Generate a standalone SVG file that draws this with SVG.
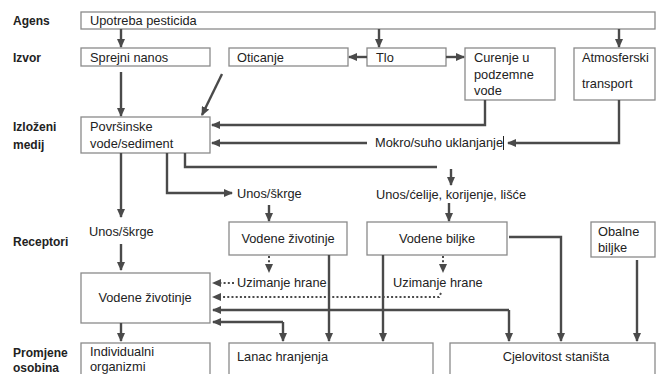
<svg xmlns="http://www.w3.org/2000/svg" width="656" height="374" viewBox="0 0 656 374">
<defs>
<marker id="ah" markerUnits="userSpaceOnUse" markerWidth="9" markerHeight="8" refX="8" refY="4" orient="auto">
<path d="M0,0 L9,4 L0,8 z" fill="#4a4a4a"/>
</marker>
<style>
.box{fill:#fff;stroke:#8a8a8a;stroke-width:1.3}
.t{font-family:"Liberation Sans",Arial,sans-serif;font-size:12.8px;fill:#222}
.b{font-weight:bold;font-size:12px}
.m{text-anchor:middle}
.c{fill:none;stroke:#4a4a4a;stroke-width:2.4}
.d{fill:none;stroke:#4a4a4a;stroke-width:2;stroke-dasharray:2 2.2}
</style>
</defs>
<rect width="656" height="374" fill="#fff"/>
<g id="row-labels">
<text class="t b" x="13" y="25">Agens</text>
<text class="t b" x="13" y="62">Izvor</text>
<text class="t b" x="13" y="131">Izloženi</text>
<text class="t b" x="13" y="149">medij</text>
<text class="t b" x="13" y="246">Receptori</text>
<text class="t b" x="13" y="357">Promjene</text>
<text class="t b" x="13" y="372">osobina</text>
</g>
<g id="n-upotreba"><rect class="box" x="81" y="12" width="574" height="17"/><text class="t" x="90" y="25">Upotreba pesticida</text></g>
<g id="n-sprejni"><rect class="box" x="81" y="48" width="129" height="18"/><text class="t" x="90" y="62">Sprejni nanos</text></g>
<g id="n-oticanje"><rect class="box" x="229" y="48" width="119" height="18"/><text class="t" x="237" y="62">Oticanje</text></g>
<g id="n-tlo"><rect class="box" x="367" y="48" width="79" height="18"/><text class="t" x="376" y="62">Tlo</text></g>
<g id="n-curenje"><rect class="box" x="465" y="48" width="90" height="52"/><text class="t" x="474" y="62">Curenje u</text><text class="t" x="474" y="79">podzemne</text><text class="t" x="474" y="95">vode</text></g>
<g id="n-atmosferski"><rect class="box" x="574" y="48" width="81" height="52"/><text class="t" x="582" y="62">Atmosferski</text><text class="t" x="582" y="88">transport</text></g>
<g id="n-povrsinske"><rect class="box" x="81" y="117" width="129" height="36"/><text class="t" x="90" y="131">Površinske</text><text class="t" x="90" y="148">vode/sediment</text></g>
<g id="n-mokro"><text class="t" x="375" y="147">Mokro/suho uklanjanje</text><line x1="503.5" y1="136" x2="503.5" y2="150" stroke="#222" stroke-width="1"/></g>
<g id="n-unos-skrge-mid"><text class="t" x="237" y="198">Unos/škrge</text></g>
<g id="n-unos-celije"><text class="t" x="376" y="199">Unos/ćelije, korijenje, lišće</text></g>
<g id="n-unos-skrge-left"><text class="t" x="89" y="236">Unos/škrge</text></g>
<g id="n-vodene-zivotinje-r"><rect class="box" x="229" y="222" width="118" height="33"/><text class="t m" x="288" y="243">Vodene životinje</text></g>
<g id="n-vodene-biljke"><rect class="box" x="367" y="222" width="140" height="33"/><text class="t m" x="437" y="243">Vodene biljke</text></g>
<g id="n-obalne"><rect class="box" x="591" y="222" width="64" height="35"/><text class="t" x="598" y="236">Obalne</text><text class="t" x="598" y="252">biljke</text></g>
<g id="n-uzimanje1"><text class="t" x="237" y="287">Uzimanje hrane</text></g>
<g id="n-uzimanje2"><text class="t" x="393" y="287">Uzimanje hrane</text></g>
<g id="n-vodene-zivotinje"><rect class="box" x="81" y="273" width="129" height="50"/><text class="t m" x="145" y="302">Vodene životinje</text></g>
<g id="n-individualni"><rect class="box" x="81" y="343" width="129" height="40"/><text class="t" x="90" y="356">Individualni</text><text class="t" x="90" y="371">organizmi</text></g>
<g id="n-lanac"><rect class="box" x="229" y="343" width="204" height="40"/><text class="t" x="237" y="361">Lanac hranjenja</text></g>
<g id="n-cjelovitost"><rect class="box" x="450" y="343" width="205" height="40"/><text class="t m" x="556" y="361">Cjelovitost staništa</text></g>
<g id="connectors">
<path class="c" d="M121,29 V47" marker-end="url(#ah)"/>
<path class="c" d="M379,29 V47" marker-end="url(#ah)"/>
<path class="c" d="M619,29 V47" marker-end="url(#ah)"/>
<path class="c" d="M367,57 H349" marker-end="url(#ah)"/>
<path class="c" d="M446,57 H464" marker-end="url(#ah)"/>
<path class="c" d="M121,72 V116" marker-end="url(#ah)"/>
<path class="c" d="M222,74 L202,115" marker-end="url(#ah)"/>
<path class="c" d="M485,100 V125 H212" marker-end="url(#ah)"/>
<path class="c" d="M619,100 V143 H508" marker-end="url(#ah)"/>
<path class="c" d="M367,143 H212" marker-end="url(#ah)"/>
<path class="c" d="M185,153 V167 H437"/>
<path class="c" d="M451,169 V185" marker-end="url(#ah)"/>
<path class="c" d="M449,203 V221" marker-end="url(#ah)"/>
<path class="c" d="M167,153 V193 H232" marker-end="url(#ah)"/>
<path class="c" d="M269,205 V221" marker-end="url(#ah)"/>
<path class="c" d="M121,153 V217" marker-end="url(#ah)"/>
<path class="c" d="M121,244 V270" marker-end="url(#ah)"/>
<path class="c" d="M121,323 V341" marker-end="url(#ah)"/>
<path class="d" d="M269,256 V272" marker-end="url(#ah)"/>
<path class="d" d="M234,283 H213" marker-end="url(#ah)"/>
<path class="d" d="M443,256 V272" marker-end="url(#ah)"/>
<path class="d" d="M441,293 L439,297 H213" marker-end="url(#ah)"/>
<path class="c" d="M329,255 V341" marker-end="url(#ah)"/>
<path class="c" d="M383,255 V341" marker-end="url(#ah)"/>
<path class="c" d="M509,310 H213" marker-end="url(#ah)"/>
<path class="c" d="M509,310 V341" marker-end="url(#ah)"/>
<path class="c" d="M283,322 H213" marker-end="url(#ah)"/>
<path class="c" d="M283,322 V341" marker-end="url(#ah)"/>
<path class="c" d="M509,237 H561 V341" marker-end="url(#ah)"/>
<path class="c" d="M637,260 V341" marker-end="url(#ah)"/>
</g>
</svg>
